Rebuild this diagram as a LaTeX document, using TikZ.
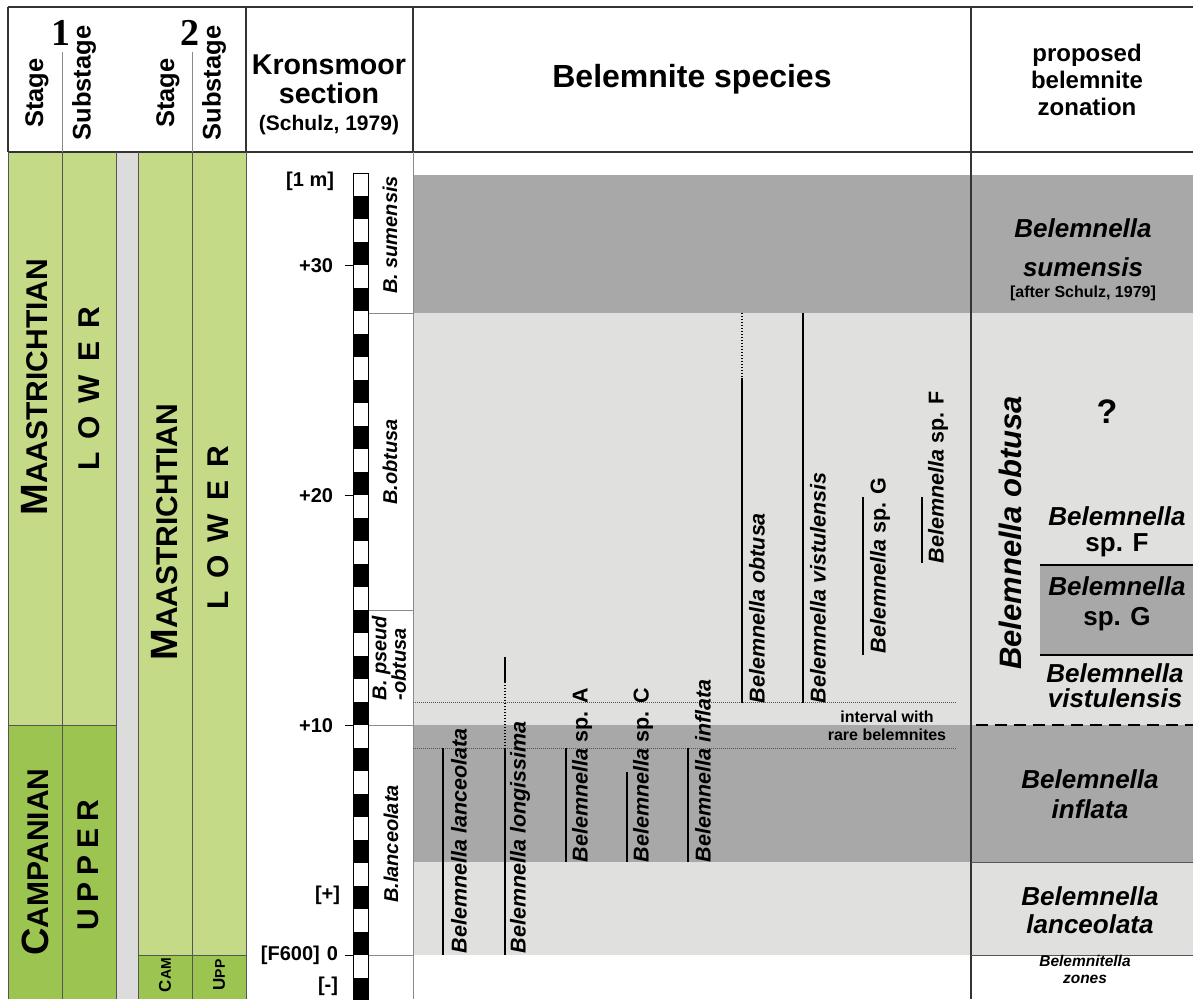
\documentclass[tikz,border=0pt]{standalone}
\usepackage{fontspec}
\setmainfont{Liberation Sans}
\newfontfamily\serifb{Liberation Serif}
\definecolor{lgreen}{HTML}{C5DA86}
\definecolor{dgreen}{HTML}{9BC450}
\definecolor{strip}{HTML}{DCDCDC}
\definecolor{lgray}{HTML}{E0E0DE}
\definecolor{dgray}{HTML}{A8A8A8}
\definecolor{rulec}{HTML}{333333}
\definecolor{thinc}{HTML}{555555}
\definecolor{zonec}{HTML}{8A8A8A}
\newcommand\fsz[2]{\fontsize{#1}{#2}\selectfont}
\newcommand\scw[4]{{\fsz{#1}{#1}#3}{\fsz{#2}{#2}#4}}
\newcommand\gp[1]{\hspace{#1pt}}
\begin{document}
\begin{tikzpicture}[x=1pt,y=-1pt,
  every node/.style={inner sep=0pt, outer sep=0pt},
  hdr/.style={font=\bfseries\fsz{25.5}{29}},
  vt/.style={rotate=90},
  scl/.style={font=\bfseries\fsz{20}{21}, anchor=east},
  zlab/.style={font=\bfseries\itshape\fsz{20}{18}, rotate=90},
  splab/.style={font=\bfseries\fsz{21.5}{24}, rotate=90, anchor=west},
  rng/.style={line width=2.8pt},
  rngdot/.style={line width=2.2pt, dash pattern=on 1.3pt off 1.7pt},
  hdot/.style={line width=0.9pt, dash pattern=on 1pt off 1pt, color=thinc},
  zn/.style={font=\bfseries\itshape\fsz{26}{30}, anchor=base},
  znup/.style={font=\bfseries\fsz{26}{30}, anchor=base},
  headline/.style={line width=1.4pt, color=rulec},
  colline/.style={line width=0.8pt, color=thinc},
  zoneline/.style={line width=0.8pt, color=zonec},
  bigsc/.style={font=\bfseries, rotate=90}
]
\useasboundingbox (0,0) rectangle (1193,999);
% ---------- backgrounds ----------
\fill[lgreen] (8,152) rectangle (116,725);
\fill[dgreen] (8,725) rectangle (116,999);
\fill[strip] (116,152) rectangle (138,999);
\fill[lgreen] (138,152) rectangle (246,955);
\fill[dgreen] (138,955) rectangle (246,999);
\fill[dgray] (413,175) rectangle (1193,313);
\fill[lgray] (413,313) rectangle (1193,725);
\fill[dgray] (413,725) rectangle (1193,862);
\fill[lgray] (413,862) rectangle (1193,955);
\fill[dgray] (1040,565) rectangle (1193,655);
% ---------- header frame ----------
\draw[headline] (8,7) -- (1193,7);
\draw[headline] (8,152) -- (1193,152);
\draw[headline] (8,7) -- (8,152);
\draw[headline] (246,7) -- (246,152);
\draw[headline] (413,7) -- (413,152);
\draw[headline] (971,7) -- (971,999);
\draw[line width=0.7pt, color=zonec] (62,52) -- (62,152);
\draw[line width=0.7pt, color=zonec] (192,52) -- (192,152);
% ---------- column lines ----------
\foreach \xx in {8,62,116,138,192,246} \draw[colline] (\xx,152) -- (\xx,999);
\draw[colline] (8,725) -- (116,725);
\draw[colline] (138,955) -- (246,955);
% zone label column
\draw[zoneline] (413,152) -- (413,999);
\foreach \yy in {313,610,725,955} \draw[zoneline] (368,\yy) -- (413,\yy);
% zonation column lines
\draw[colline] (971,862) -- (1193,862);
\draw[colline] (971,955) -- (1193,955);
\draw[line width=2.2pt, dash pattern=on 12pt off 7pt] (976,725) -- (1193,725);
\draw[line width=1.8pt] (1040,565) -- (1193,565);
\draw[line width=1.8pt] (1040,655) -- (1193,655);
% dotted horizontals
\draw[hdot] (413,702) -- (956,702);
\draw[hdot] (413,748) -- (956,748);
% ---------- scale bar ----------
\foreach \m in {-2,...,33} {
  \pgfmathtruncatemacro\ev{mod(\m+100,2)}
  \ifnum\ev=0
    \fill[black] (353,{955-23*(\m+1)}) rectangle (368,{955-23*\m});
  \fi
}
\draw[line width=0.8pt] (353,173) rectangle (368,1005);
\foreach \yy in {265,495,725,955} \draw[line width=1pt] (345,\yy) -- (353,\yy);
% ---------- range lines ----------
\draw[rng] (443,748) -- (443,955);
\draw[rng] (505,657) -- (505,682);
\draw[rngdot] (505,682) -- (505,748);
\draw[rng] (505,748) -- (505,955);
\draw[rng] (566,748) -- (566,862);
\draw[rng] (627,772) -- (627,862);
\draw[rng] (688,748) -- (688,862);
\draw[rngdot] (742,313) -- (742,378);
\draw[rng] (742,378) -- (742,703);
\draw[rng] (803,313) -- (803,703);
\draw[rng] (863,497) -- (863,655);
\draw[rng] (922,497) -- (922,563);
% ---------- header texts ----------
\node[font=\serifb\bfseries\fsz{38}{38}] (n1) at (61,33) {1};
\node[font=\serifb\bfseries\fsz{38}{38}] (n2) at (190,33) {2};
\node[hdr, vt] (st1) at (37,93) {Stage};
\node[hdr, vt] (sb1) at (84,83) {Substage};
\node[hdr, vt] (st2) at (168,93) {Stage};
\node[hdr, vt] (sb2) at (214,83) {Substage};
\node[font=\bfseries\fsz{28.6}{30}] (kr) at (329,65) {Kronsmoor};
\node[font=\bfseries\fsz{28.6}{30}] (sec) at (329,93) {section};
\node[font=\bfseries\fsz{21}{22}] (sch) at (329,125) {(Schulz, 1979)};
\node[font=\bfseries\fsz{32}{34}] (bs) at (692,79) {Belemnite species};
\node[font=\bfseries\fsz{24}{27}, align=center] (pbz) at (1087,80) {proposed\\belemnite\\zonation};
% ---------- stage texts ----------
\node[bigsc] (m1) at (35,387) {\scw{38}{30}{M}{AASTRICHTIAN}};
\node[bigsc] (l1) at (89,389) {\fsz{30}{30}L\gp{13}O\gp{13}W\gp{13}E\gp{13}R};
\node[bigsc] (c1) at (35,862) {\scw{38}{30}{C}{AMPANIAN}};
\node[bigsc] (u1) at (88,865) {\fsz{30}{30}U\gp{7}P\gp{7}P\gp{7}E\gp{7}R};
\node[bigsc] (m2) at (165,532) {\scw{38}{30}{M}{AASTRICHTIAN}};
\node[bigsc] (l2) at (218,528) {\fsz{30}{30}L\gp{13}O\gp{13}W\gp{13}E\gp{13}R};
\node[bigsc] (c2) at (165,975) {\scw{17}{14}{C}{AM}};
\node[bigsc] (u2) at (219,975) {\scw{17}{14}{U}{PP}};
% ---------- scale labels ----------
\node[scl] (s1m) at (334,181) {[1 m]};
\node[scl] (s30) at (333,266) {+30};
\node[scl] (s20) at (333,496) {+20};
\node[scl] (s10) at (333,726) {+10};
\node[scl] (spl) at (340,895) {[+]};
\node[scl] (s0) at (338,955) {[F600]\hspace{7pt}0};
\node[scl] (smi) at (338,986) {[-]};
% ---------- zone labels ----------
\node[zlab] (zsum) at (390,235) {B. sumensis};
\node[zlab] (zobt) at (390,462) {B.obtusa};
\node[zlab, align=left] (zps) at (389,658) {B. pseud\\-obtusa};
\node[zlab] (zlan) at (391,844) {B.lanceolata};
% ---------- species labels ----------
\node[splab] (tlan) at (459,953) {\textit{Belemnella lanceolata}};
\node[splab] (tlon) at (520,953) {\textit{Belemnella longissima}};
\node[splab] (tA) at (582,862) {\textit{Belemnella} sp. A};
\node[splab] (tC) at (643,862) {\textit{Belemnella} sp. C};
\node[splab] (tinf) at (703,862) {\textit{Belemnella inflata}};
\node[splab] (tobt) at (757,703) {\textit{Belemnella obtusa}};
\node[splab] (tvis) at (818,703) {\textit{Belemnella vistulensis}};
\node[splab] (tG) at (880,653) {\textit{Belemnella} sp. G};
\node[splab] (tF) at (938,563) {\textit{Belemnella} sp. F};
\node[font=\bfseries\fsz{16}{18}, align=center] (intv) at (887,726) {interval with\\rare belemnites};
% ---------- zonation texts ----------
\node[zn] (zs1) at (1083,237) {Belemnella};
\node[zn] (zs2) at (1083,276) {sumensis};
\node[font=\bfseries\fsz{16}{18}, anchor=base] (zs3) at (1083,297) {[after Schulz, 1979]};
\node[font=\bfseries\fsz{34}{36}, anchor=base] (zq) at (1107,423) {?};
\node[font=\bfseries\itshape\fsz{31}{33}, rotate=90] (zob) at (1010,533) {Belemnella obtusa};
\node[zn] (zf1) at (1117,525) {Belemnella};
\node[znup] (zf2) at (1117,551) {sp. F};
\node[zn] (zg1) at (1117,595) {Belemnella};
\node[znup] (zg2) at (1117,625) {sp. G};
\node[zn] (zv1) at (1115,682) {Belemnella};
\node[zn] (zv2) at (1115,707) {vistulensis};
\node[zn] (zi1) at (1090,788) {Belemnella};
\node[zn] (zi2) at (1090,818) {inflata};
\node[zn] (zl1) at (1090,905) {Belemnella};
\node[zn] (zl2) at (1090,933) {lanceolata};
\node[font=\bfseries\itshape\fsz{15.5}{16}, anchor=base] (zb1) at (1085,966) {Belemnitella};
\node[font=\bfseries\itshape\fsz{15.5}{16}, anchor=base] (zb2) at (1085,983) {zones};
\end{tikzpicture}
\end{document}
